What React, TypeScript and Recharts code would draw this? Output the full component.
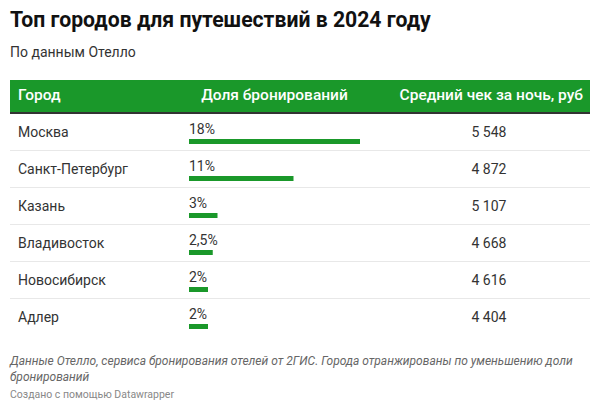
import React from 'react';
import { BarChart, Bar, XAxis, YAxis, LabelList } from 'recharts';

const cities = ['Москва', 'Санкт-Петербург', 'Казань', 'Владивосток', 'Новосибирск', 'Адлер'];
const shares = [18, 11, 3, 2.5, 2, 2];
const prices = ['5 548', '4 872', '5 107', '4 668', '4 616', '4 404'];

const GREEN = '#1a982a';
const FONT = 'Roboto, "Noto Sans", sans-serif';
const ROW_H = 37;

const data = cities.map((city, i) => ({ city, share: shares[i], price: prices[i] }));

function fmtShare(v: number) {
  return String(v).replace('.', ',') + '%';
}

// bar drawn low in its row, label sits above it
function BarShape(props: any) {
  const { x, y, width, height } = props;
  return <rect x={x} y={y + 10} width={width} height={height} fill={GREEN} />;
}

function ShareLabel(props: any) {
  const { x, y, value } = props;
  return (
    <text x={x} y={y + 5} fill="#333" fontSize={14} fontFamily={FONT}>
      {fmtShare(value)}
    </text>
  );
}

function CityTick(props: any) {
  const { y, payload } = props;
  return (
    <text x={8} y={y} dy={5} fill="#333" fontSize={14} fontFamily={FONT} textAnchor="start">
      {payload.value}
    </text>
  );
}

function PriceTick(props: any) {
  const { y, payload } = props;
  return (
    <text x={479} y={y} dy={5} fill="#333" fontSize={14} fontFamily={FONT} textAnchor="middle">
      {payload.value}
    </text>
  );
}

export default function App() {
  return (
    <div
      style={{
        position: 'absolute',
        left: 0,
        top: 0,
        width: 600,
        height: 407,
        background: '#fff',
        fontFamily: FONT,
        overflow: 'hidden',
      }}
    >
      <div style={{ position: 'absolute', left: 10, top: 7, fontSize: 21.2, fontWeight: 700, color: '#111' }}>
        Топ городов для путешествий в 2024 году
      </div>
      <div style={{ position: 'absolute', left: 10, top: 44, fontSize: 14, color: '#333' }}>По данным Отелло</div>

      {/* header band */}
      <div
        style={{
          position: 'absolute',
          left: 10,
          top: 80,
          width: 580,
          height: 32,
          background: GREEN,
          borderBottom: '2px solid #333',
          color: '#fff',
          fontSize: 15.5,
          fontWeight: 500,
        }}
      >
        <span style={{ position: 'absolute', left: 8, top: 6 }}>Город</span>
        <span style={{ position: 'absolute', left: 179, width: 171, top: 6, textAlign: 'center' }}>
          Доля бронирований
        </span>
        <span style={{ position: 'absolute', right: 7, top: 6 }}>Средний чек за ночь, руб</span>
      </div>

      {/* row separators */}
      {cities.slice(0, -1).map((c, i) => (
        <div
          key={c}
          style={{
            position: 'absolute',
            left: 10,
            top: 114 + (i + 1) * ROW_H - 1,
            width: 580,
            height: 1,
            background: '#e8e8e8',
          }}
        />
      ))}

      <div style={{ position: 'absolute', left: 10, top: 113 }}>
        <BarChart
          width={580}
          height={ROW_H * cities.length}
          data={data}
          layout="vertical"
          margin={{ top: 0, right: 0, left: 0, bottom: 0 }}
          barCategoryGap={0}
        >
          <XAxis type="number" domain={[0, 18]} hide />
          <YAxis
            yAxisId="city"
            type="category"
            dataKey="city"
            width={179}
            axisLine={false}
            tickLine={false}
            tick={<CityTick />}
          />
          <YAxis
            yAxisId="price"
            orientation="right"
            type="category"
            dataKey="price"
            width={230}
            axisLine={false}
            tickLine={false}
            tick={<PriceTick />}
          />
          <Bar yAxisId="city" dataKey="share" barSize={5} shape={<BarShape />} isAnimationActive={false}>
            <LabelList dataKey="share" content={<ShareLabel />} />
          </Bar>
        </BarChart>
      </div>

      <div
        style={{
          position: 'absolute',
          left: 10,
          top: 353,
          width: 585,
          fontSize: 12,
          lineHeight: '16px',
          fontStyle: 'italic',
          color: '#666',
        }}
      >
        Данные Отелло, сервиса бронирования отелей от 2ГИС. Города отранжированы по уменьшению доли бронирований
      </div>
      <div style={{ position: 'absolute', left: 10, top: 388, fontSize: 10.5, color: '#888' }}>
        Создано с помощью Datawrapper
      </div>
    </div>
  );
}
